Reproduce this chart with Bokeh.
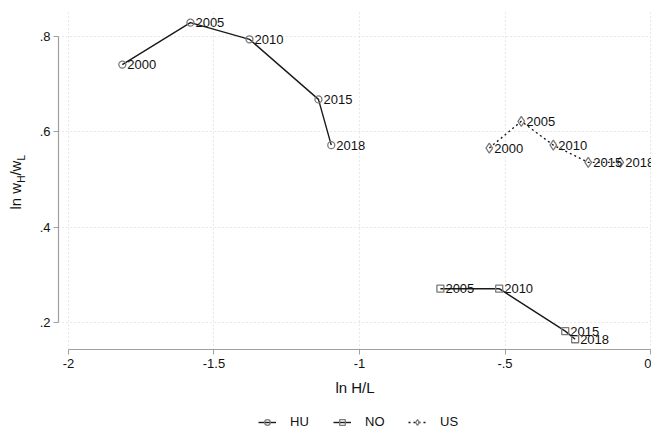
import math
from bokeh.plotting import figure
from bokeh.layouts import row, column
from bokeh.models import ColumnDataSource, FixedTicker, Legend, LegendItem, Label
from bokeh.core.properties import value
from bokeh.embed import file_html
from bokeh.resources import INLINE

FONT = "Liberation Sans"

# data (ln H/L, ln wH/wL)
hu_year = ["2000", "2005", "2010", "2015", "2018"]
hu_x = [-1.815, -1.581, -1.378, -1.141, -1.097]
hu_y = [0.741, 0.829, 0.794, 0.668, 0.572]

no_year = ["2005", "2010", "2015", "2018"]
no_x = [-0.722, -0.520, -0.293, -0.259]
no_y = [0.271, 0.271, 0.182, 0.165]

us_year = ["2000", "2005", "2010", "2015", "2018"]
us_x = [-0.554, -0.444, -0.334, -0.214, -0.104]
us_y = [0.566, 0.622, 0.572, 0.536, 0.536]

countries = ["HU", "NO", "US"]
x_ticks = [-2, -1.5, -1, -0.5, 0]
x_tick_labels = ["-2", "-1.5", "-1", "-.5", "0"]
y_ticks = [0.2, 0.4, 0.6, 0.8]
y_tick_labels = [".2", ".4", ".6", ".8"]

LINE = "#1a1a1a"
MK = "#7a7a7a"
TXT = "#111111"

# ---------------- main plot ----------------
p = figure(width=615, height=398, output_backend="svg", toolbar_location=None,
           x_range=(-2.0343, 0.0034), y_range=(0.1435, 0.8544),
           min_border_left=22, min_border_right=0, min_border_top=10, min_border_bottom=48)
p.outline_line_color = None

p.xaxis.ticker = FixedTicker(ticks=x_ticks)
p.yaxis.ticker = FixedTicker(ticks=y_ticks)
p.xaxis.major_label_overrides = {t: l for t, l in zip(x_ticks, x_tick_labels)}
p.yaxis.major_label_overrides = {t: l for t, l in zip(y_ticks, y_tick_labels)}
p.xaxis.bounds = (x_ticks[0], x_ticks[-1])
p.yaxis.bounds = (y_ticks[0], y_ticks[-1])
for ax in (p.xaxis, p.yaxis):
    ax.minor_tick_line_color = None
    ax.major_tick_out = 5
    ax.major_tick_in = 0
    ax.axis_line_color = "#a0a0a0"
    ax.major_tick_line_color = "#a0a0a0"
    ax.axis_line_width = 1.2
    ax.major_label_text_font = FONT
    ax.major_label_text_font_size = "13px"
    ax.major_label_text_color = TXT
p.yaxis.major_label_orientation = "horizontal"
p.yaxis.major_label_standoff = 3
p.xaxis.major_label_standoff = 4
p.xaxis.axis_label = "ln H/L"
p.xaxis.axis_label_text_font = FONT
p.xaxis.axis_label_text_font_style = "normal"
p.xaxis.axis_label_text_font_size = "15px"
p.xaxis.axis_label_text_color = TXT
p.xaxis.axis_label_standoff = 8

for g in (p.xgrid, p.ygrid):
    g.grid_line_color = "#d0d0d0"
    g.grid_line_dash = "1 3"
p.xgrid.ticker = FixedTicker(ticks=x_ticks)
p.ygrid.ticker = FixedTicker(ticks=y_ticks)

STYLES = {"HU": ("circle", 7, "solid"), "NO": ("square", 7, "solid"), "US": ("diamond", 10, "2 3")}

def draw(fig, src, name, labels=True):
    marker, size, dash = STYLES[name]
    ln = fig.line("x", "y", source=src, line_color=LINE, line_width=1.4, line_dash=dash)
    sc = fig.scatter("x", "y", source=src, marker=marker, size=size, fill_color="white",
                     fill_alpha=0.0, line_color=MK, line_width=1.3)
    if labels:
        fig.text("x", "y", text="year", source=src, x_offset=5, text_baseline="middle",
                 text_align="left", text_font=value(FONT), text_font_size="13px",
                 text_color=TXT)
    return [ln, sc]

sources = {
    "HU": ColumnDataSource(dict(x=hu_x, y=hu_y, year=hu_year)),
    "NO": ColumnDataSource(dict(x=no_x, y=no_y, year=no_year)),
    "US": ColumnDataSource(dict(x=us_x, y=us_y, year=us_year)),
}
for name in countries:
    draw(p, sources[name], name)

# ---------------- y-axis title (ln w_H / w_L) ----------------
ylab = figure(width=36, height=429, output_backend="svg", toolbar_location=None,
              x_axis_type=None, y_axis_type=None, x_range=(0, 36), y_range=(0, 429),
              min_border=0)
ylab.outline_line_color = None
ylab.grid.visible = False
parts = [("ln w", "15px", 0), ("H", "10px", 6), ("/w", "15px", 0), ("L", "10px", 6)]
widths = [26.7, 7.2, 15.0, 5.6]
pos = 429.0 - 209.0
for (txt, fs, sub), w in zip(parts, widths):
    ylab.add_layout(Label(x=15 + sub, y=pos, x_units="screen", y_units="screen", text=txt,
                          angle=math.pi / 2, text_font=FONT, text_font_size=fs,
                          text_baseline="middle", text_align="left", text_color=TXT))
    pos += w

# ---------------- legend strip ----------------
# the series are drawn here again outside this strip's view, only to key the legend
lg = figure(width=615, height=31, output_backend="svg", toolbar_location=None,
            x_axis_type=None, y_axis_type=None, x_range=(0, 1), y_range=(0, 1),
            min_border=0)
lg.outline_line_color = None
lg.grid.visible = False
items = []
for name in countries:
    rs = draw(lg, sources[name], name, labels=False)
    items.append(LegendItem(label=name, renderers=rs))
legend = Legend(items=items, orientation="horizontal", location=(200, 0),
                border_line_color=None, background_fill_alpha=0.0,
                padding=0, margin=0, spacing=23, label_standoff=14,
                glyph_width=18, glyph_height=14, label_height=14,
                label_text_font=FONT, label_text_font_size="13px",
                label_text_color=TXT)
lg.add_layout(legend, "center")

layout = row(ylab, column(p, lg))
open("out.html", "w").write(file_html(layout, INLINE))
